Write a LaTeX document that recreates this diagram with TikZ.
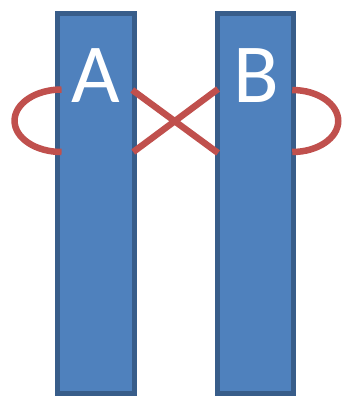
\documentclass[tikz,border=0pt]{standalone}
\usepackage{fontspec}
\setmainfont{Carlito}
\usetikzlibrary{calc}
\definecolor{barfill}{HTML}{4F81BD}
\definecolor{barline}{HTML}{385D8A}
\definecolor{linkred}{HTML}{C0504D}
\tikzset{
  bar/.style={draw=barline, fill=barfill, line width=5pt, rectangle,
    minimum width=76.7pt, minimum height=379.5pt, inner sep=0pt, outer sep=0pt},
  barlabel/.style={text=white, font=\fontsize{84}{84}\selectfont, anchor=base, inner sep=0pt},
  link/.style={draw=linkred, line width=6.5pt}
}
\begin{document}
\begin{tikzpicture}[x=1pt, y=-1pt]
  \useasboundingbox (0,0) rectangle (345,396);
  % the two bars
  \node[bar] (A) at (95.9,203.25) {};
  \node[bar] (B) at (255.4,203.25) {};
  % letters near the top of each bar
  \node[barlabel] (la) at (95.5,102) {A};
  \node[barlabel] (lb) at (256.5,102) {B};
  % attachment points of the red strands
  \coordinate (aw1) at ($(A.west)+(4,-113.75)$);
  \coordinate (aw2) at ($(A.west)+(4,-51.25)$);
  \coordinate (ae1) at ($(A.east)+(-2,-113.25)$);
  \coordinate (ae2) at ($(A.east)+(-1,-51.25)$);
  \coordinate (bw1) at ($(B.west)+(1,-114.25)$);
  \coordinate (bw2) at ($(B.west)+(1,-50.25)$);
  \coordinate (be1) at ($(B.east)+(-1.5,-113.25)$);
  \coordinate (be2) at ($(B.east)+(-1.5,-51.25)$);
  % outer loops (y axis points down, so -90 is the upper end)
  \draw[link] (aw1) arc[start angle=-90, end angle=-270, x radius=47, y radius=31.25];
  \draw[link] (be1) arc[start angle=-90, end angle=90, x radius=46, y radius=31];
  % crossing strands between the bars
  \draw[link] (ae1) -- (bw2);
  \draw[link] (ae2) -- (bw1);
\end{tikzpicture}
\end{document}
